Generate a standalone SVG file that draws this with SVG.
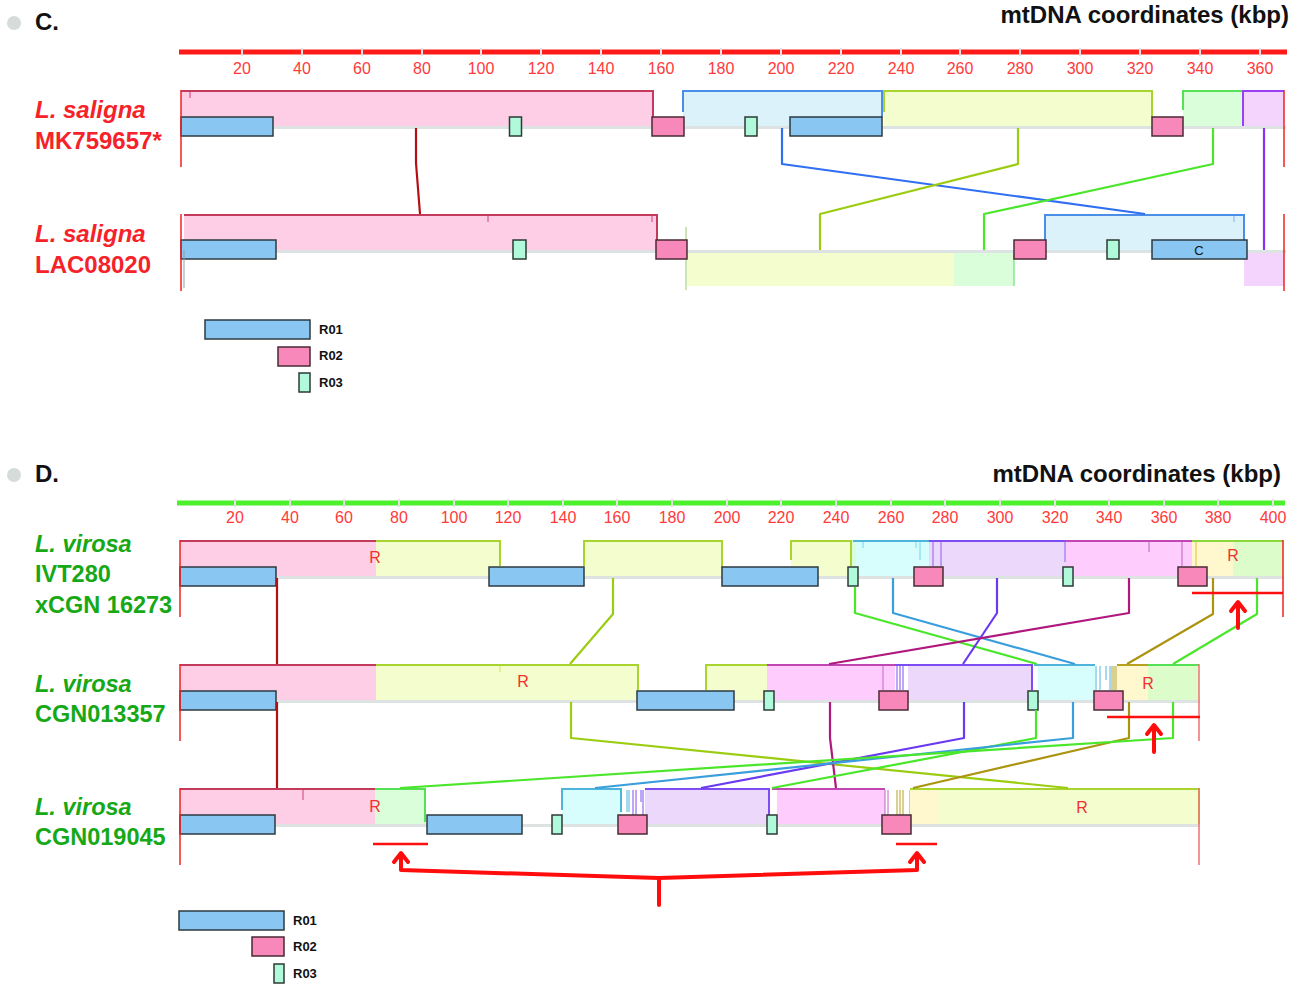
<svg xmlns="http://www.w3.org/2000/svg" width="1304" height="985" viewBox="0 0 1304 985">
<defs>
<style>
text{font-family:"Liberation Sans",Arial,sans-serif}
.hd{font-size:24px;font-weight:bold;fill:#111}
.hdR{font-size:24px;font-weight:bold;fill:#111;text-anchor:end}
.ax{font-size:16px;fill:#ff3a3a;text-anchor:middle}
.spC{font-size:24px;font-weight:bold;fill:#f5222a}
.spD{font-size:23.5px;font-weight:bold;fill:#16a816}
.it{font-style:italic}
.lgT{font-size:13px;font-weight:bold;fill:#111}
.rl{font-size:16px;fill:#f23030;text-anchor:middle}
.base{stroke:#dde3e3;stroke-width:3}
.r1{fill:#89c6f1;stroke:#2d3a40;stroke-width:1.5}
.r2{fill:#f888ba;stroke:#4a2a35;stroke-width:1.5}
.r3{fill:#b0f9da;stroke:#2d3a35;stroke-width:1.5}
.pk{fill:#fecde6}.lb{fill:#dbf2fb}.yg{fill:#f4fdcd}.lg{fill:#dafdda}.lv{fill:#f4d3fc}
.cy{fill:#d7fdfd}.pu{fill:#ebd8fb}.mg{fill:#fecdfd}.ly{fill:#fff8cf}.lg2{fill:#dcfcc9}
.e{fill:none;stroke-width:2}
.t{fill:none;stroke-width:1}
.cn path{fill:none;stroke-width:2.2;stroke-linejoin:round}
.red{stroke:#ff0d0d;fill:none;stroke-width:4;stroke-linecap:round;stroke-linejoin:round}
.redl{stroke:#ff1010;stroke-width:2.5}
.end{stroke:#f02020;stroke-width:1.5}
.endL{stroke:#f07070;stroke-width:1.5}
.tick{stroke:#e2e2e2;stroke-width:2;fill:none}
.dot{fill:#d6dcda}
</style>
</defs>
<rect width="1304" height="985" fill="#fff"/>

<!-- Panel C header -->
<g id="C-header">
<circle class="dot" cx="14" cy="23" r="7"/>
<text class="hd" x="35" y="30">C.</text>
<text class="hdR" x="1289" y="23">mtDNA coordinates (kbp)</text>
<line x1="179" y1="52" x2="1287" y2="52" stroke="#ff1a1a" stroke-width="5"/>
<path class="tick" d="M242,48V56M302,48V56M362,48V56M422,48V56M481,48V56M541,48V56M601,48V56M661,48V56M721,48V56M781,48V56M841,48V56M901,48V56M960,48V56M1020,48V56M1080,48V56M1140,48V56M1200,48V56M1260,48V56"/>
<g class="ax">
<text x="242" y="74">20</text><text x="302" y="74">40</text><text x="362" y="74">60</text><text x="422" y="74">80</text><text x="481" y="74">100</text><text x="541" y="74">120</text><text x="601" y="74">140</text><text x="661" y="74">160</text><text x="721" y="74">180</text><text x="781" y="74">200</text><text x="841" y="74">220</text><text x="901" y="74">240</text><text x="960" y="74">260</text><text x="1020" y="74">280</text><text x="1080" y="74">300</text><text x="1140" y="74">320</text><text x="1200" y="74">340</text><text x="1260" y="74">360</text>
</g>
</g>

<!-- C row 1 -->
<g id="C-MK759657">
<text class="spC it" x="35" y="118">L. saligna</text>
<text class="spC" x="35" y="149">MK759657*</text>
<rect class="pk" x="181" y="90" width="472" height="36"/>
<path class="e" stroke="#c43a5c" d="M181,91H653V126"/>
<path class="t" stroke="#d04070" d="M190,92V98"/>
<rect class="lb" x="683" y="90" width="199" height="36"/>
<path class="e" stroke="#4a8ee8" d="M683,112V91H882V117"/>
<rect class="yg" x="884" y="90" width="269" height="36"/>
<path class="e" stroke="#a8d42e" d="M884,112V91H1152V118"/>
<rect class="lg" x="1183" y="90" width="60" height="36"/>
<path class="e" stroke="#55e055" d="M1183,110V91H1243"/>
<rect class="lv" x="1243" y="90" width="41" height="36"/>
<path class="e" stroke="#9a40f2" d="M1243,126V91H1284"/>
<line class="base" x1="181" y1="127.5" x2="1286" y2="127.5"/>
<rect class="r1" x="181" y="117" width="92" height="19"/>
<rect class="r3" x="509.5" y="117" width="12" height="19"/>
<rect class="r2" x="652" y="117" width="32" height="19"/>
<rect class="r3" x="745" y="117" width="12" height="19"/>
<rect class="r1" x="790" y="117" width="92" height="19"/>
<rect class="r2" x="1152" y="117" width="31" height="19"/>
<line class="end" x1="181" y1="90" x2="181" y2="167"/>
<line class="end" x1="1284" y1="90" x2="1284" y2="167"/>
</g>

<!-- C row 2 -->
<g id="C-LAC08020">
<text class="spC it" x="35" y="242">L. saligna</text>
<text class="spC" x="35" y="273">LAC08020</text>
<rect class="pk" x="184" y="214" width="473" height="36"/>
<path class="e" stroke="#c43a5c" d="M184,215H657V250"/>
<path class="t" stroke="#d04070" d="M488,216V222M652,216V222"/>
<rect class="lb" x="1045" y="214" width="199" height="36"/>
<path class="e" stroke="#4a8ee8" d="M1045,250V215H1244V250"/>
<path class="t" stroke="#7ab0f0" d="M1234,216V222"/>
<rect class="yg" x="687" y="252" width="267" height="34"/>
<rect class="lg" x="954" y="252" width="60" height="34"/>
<rect class="lv" x="1244" y="252" width="40" height="34"/>
<path class="t" stroke="#9acb6a" d="M686,227V290"/>
<path class="t" stroke="#55e055" d="M1014,252V286"/>
<line class="base" x1="181" y1="251.5" x2="1286" y2="251.5"/>
<rect class="r1" x="181" y="240" width="95" height="19"/>
<rect class="r3" x="513" y="240" width="13" height="19"/>
<rect class="r2" x="656" y="240" width="31" height="19"/>
<rect class="r2" x="1014" y="240" width="32" height="19"/>
<rect class="r3" x="1107" y="240" width="12" height="19"/>
<rect class="r1" x="1152" y="240" width="95" height="19"/>
<text x="1199" y="255" font-size="13" fill="#111" text-anchor="middle">C</text>
<line class="end" x1="181" y1="214" x2="181" y2="291"/>
<line x1="184" y1="250" x2="184" y2="288" stroke="#90a0a0" stroke-width="1"/>
<line class="end" x1="1284" y1="214" x2="1284" y2="291"/>
</g>

<!-- Legend C -->
<g id="C-legend">
<rect class="r1" x="205" y="320" width="105" height="19"/>
<text class="lgT" x="319" y="334">R01</text>
<rect class="r2" x="278" y="347" width="32" height="19"/>
<text class="lgT" x="319" y="360">R02</text>
<rect class="r3" x="299" y="373" width="11" height="19"/>
<text class="lgT" x="319" y="387">R03</text>
</g>

<!-- Panel D header -->
<g id="D-header">
<circle class="dot" cx="14" cy="475" r="7"/>
<text class="hd" x="35" y="482">D.</text>
<text class="hdR" x="1281" y="482">mtDNA coordinates (kbp)</text>
<line x1="177" y1="503" x2="1285" y2="503" stroke="#4cf02c" stroke-width="5"/>
<path class="tick" d="M235,499V507M290,499V507M344,499V507M399,499V507M454,499V507M508,499V507M563,499V507M617,499V507M672,499V507M727,499V507M781,499V507M836,499V507M891,499V507M945,499V507M1000,499V507M1055,499V507M1109,499V507M1164,499V507M1218,499V507M1273,499V507"/>
<g class="ax">
<text x="235" y="523">20</text><text x="290" y="523">40</text><text x="344" y="523">60</text><text x="399" y="523">80</text><text x="454" y="523">100</text><text x="508" y="523">120</text><text x="563" y="523">140</text><text x="617" y="523">160</text><text x="672" y="523">180</text><text x="727" y="523">200</text><text x="781" y="523">220</text><text x="836" y="523">240</text><text x="891" y="523">260</text><text x="945" y="523">280</text><text x="1000" y="523">300</text><text x="1055" y="523">320</text><text x="1109" y="523">340</text><text x="1164" y="523">360</text><text x="1218" y="523">380</text><text x="1273" y="523">400</text>
</g>
</g>

<!-- D row 1 -->
<g id="D-IVT280">
<text class="spD it" x="35" y="552">L. virosa</text>
<text class="spD" x="35" y="582">IVT280</text>
<text class="spD" x="35" y="613">xCGN 16273</text>
<rect class="pk" x="180" y="540" width="196" height="36"/>
<path class="e" stroke="#c43a5c" d="M180,541H376"/>
<rect class="yg" x="376" y="540" width="124" height="36"/>
<path class="e" stroke="#a8d42e" d="M376,541H500V566"/>
<rect class="yg" x="584" y="540" width="138" height="36"/>
<path class="e" stroke="#a8d42e" d="M584,566V541H722V568"/>
<rect class="yg" x="791" y="540" width="60" height="36"/>
<path class="e" stroke="#a8d42e" d="M791,560V541H851V566"/>
<rect class="lg" x="852" y="540" width="6" height="36"/>
<rect class="cy" x="856" y="540" width="73" height="36"/>
<path class="e" stroke="#4fb4da" d="M853,541H929"/>
<path class="t" stroke="#70d8f0" d="M863,542V548M916,542V548M920,542V560"/>
<rect class="pu" x="929" y="540" width="137" height="36"/>
<path class="e" stroke="#7d4cf2" d="M929,541H1066"/>
<path class="t" stroke="#8a60f0" d="M933,541V566M941,541V566M1065,541V562"/>
<rect class="mg" x="1066" y="540" width="126" height="36"/>
<path class="e" stroke="#c046b4" d="M1066,541H1192"/>
<path class="t" stroke="#c060c0" d="M1149,542V552M1182,542V566"/>
<rect class="ly" x="1192" y="540" width="41" height="36"/>
<rect class="lg2" x="1233" y="540" width="50" height="36"/>
<path class="e" stroke="#8ad83a" d="M1192,541H1283"/>
<path class="t" stroke="#e0c040" d="M1196,542V566"/>
<line class="base" x1="180" y1="577.5" x2="1284" y2="577.5"/>
<rect class="r1" x="180" y="567" width="96" height="19"/>
<rect class="r1" x="489" y="567" width="95" height="19"/>
<rect class="r1" x="722" y="567" width="96" height="19"/>
<rect class="r3" x="848" y="567" width="10" height="19"/>
<rect class="r2" x="914" y="567" width="29" height="19"/>
<rect class="r3" x="1063" y="567" width="10" height="19"/>
<rect class="r2" x="1178" y="567" width="29" height="19"/>
<text class="rl" x="375" y="563">R</text>
<text class="rl" x="1233" y="561">R</text>
<line class="end" x1="180" y1="540" x2="180" y2="617"/>
<line class="end" x1="1283" y1="540" x2="1283" y2="617"/>
</g>

<!-- D row 2 -->
<g id="D-CGN013357">
<text class="spD it" x="35" y="692">L. virosa</text>
<text class="spD" x="35" y="722">CGN013357</text>
<rect class="pk" x="180" y="664" width="196" height="36"/>
<path class="e" stroke="#c43a5c" d="M180,665H376"/>
<rect class="yg" x="376" y="664" width="262" height="36"/>
<path class="e" stroke="#a8d42e" d="M376,665H638V690"/>
<path class="t" stroke="#e0e060" d="M500,666V672"/>
<rect class="yg" x="706" y="664" width="61" height="36"/>
<path class="e" stroke="#a8d42e" d="M706,690V665H767"/>
<rect class="mg" x="767" y="664" width="128" height="36"/>
<path class="e" stroke="#c046b4" d="M767,665H895"/>
<path class="t" stroke="#d060d0" d="M883,666V690"/>
<path class="t" stroke="#7d4cf2" d="M897,666V690M900,666V690M903,666V690"/>
<rect class="pu" x="908" y="664" width="124" height="36"/>
<path class="e" stroke="#7d4cf2" d="M895,665H1032V690"/>
<rect class="cy" x="1038" y="664" width="57" height="36"/>
<path class="e" stroke="#4fb4da" d="M1034,665H1095"/>
<path class="t" stroke="#4fb4da" d="M1096,666V690M1100,666V690M1106,666V680M1110,666V690"/>
<path class="t" stroke="#b8a020" d="M1112,666V690M1114,666V690M1116,666V690"/>
<rect class="ly" x="1117" y="664" width="31" height="36"/>
<rect class="lg2" x="1148" y="664" width="51" height="36"/>
<path class="e" stroke="#b8a020" d="M1117,665H1148"/>
<path class="e" stroke="#55e055" d="M1148,665H1199"/>
<line class="base" x1="180" y1="701.5" x2="1200" y2="701.5"/>
<rect class="r1" x="180" y="691" width="96" height="19"/>
<rect class="r1" x="637" y="691" width="97" height="19"/>
<rect class="r3" x="764" y="691" width="10" height="19"/>
<rect class="r2" x="879" y="691" width="29" height="19"/>
<rect class="r3" x="1028" y="691" width="10" height="19"/>
<rect class="r2" x="1094" y="691" width="29" height="19"/>
<text class="rl" x="523" y="687">R</text>
<text class="rl" x="1148" y="689">R</text>
<line class="end" x1="180" y1="664" x2="180" y2="741"/>
<line class="endL" x1="1199" y1="664" x2="1199" y2="741"/>
</g>

<!-- D row 3 -->
<g id="D-CGN019045">
<text class="spD it" x="35" y="815">L. virosa</text>
<text class="spD" x="35" y="845">CGN019045</text>
<rect class="pk" x="180" y="788" width="195" height="36"/>
<path class="e" stroke="#c43a5c" d="M180,789H375"/>
<path class="t" stroke="#d04070" d="M303,790V800"/>
<rect class="lg" x="375" y="788" width="50" height="36"/>
<path class="e" stroke="#55e055" d="M375,789H425V822"/>
<rect class="cy" x="562" y="788" width="59" height="36"/>
<path class="e" stroke="#4fb4da" d="M562,810V789H621V812"/>
<path class="t" stroke="#4fb4da" d="M627,790V812M629,790V812"/>
<path class="t" stroke="#7d4cf2" d="M633,790V815M636,790V815M641,790V802M643,790V815"/>
<rect class="pu" x="645" y="788" width="124" height="36"/>
<path class="e" stroke="#7d4cf2" d="M645,789H769V815"/>
<rect class="mg" x="777" y="788" width="108" height="36"/>
<path class="e" stroke="#c046b4" d="M772,789H885"/>
<path class="t" stroke="#c060c0" d="M885,790V815M888,790V815"/>
<path class="t" stroke="#b8a020" d="M897,790V815M900,790V815M903,790V815M910,790V815"/>
<rect class="ly" x="910" y="788" width="27" height="36"/>
<rect class="yg" x="937" y="788" width="262" height="36"/>
<path class="e" stroke="#a8d42e" d="M910,789H1199V824"/>
<line class="base" x1="180" y1="825.5" x2="1200" y2="825.5"/>
<rect class="r1" x="180" y="815" width="95" height="19"/>
<rect class="r1" x="427" y="815" width="95" height="19"/>
<rect class="r3" x="552" y="815" width="10" height="19"/>
<rect class="r2" x="618" y="815" width="29" height="19"/>
<rect class="r3" x="767" y="815" width="10" height="19"/>
<rect class="r2" x="882" y="815" width="29" height="19"/>
<text class="rl" x="375" y="812">R</text>
<text class="rl" x="1082" y="813">R</text>
<line class="end" x1="180" y1="788" x2="180" y2="865"/>
<line class="endL" x1="1199" y1="788" x2="1199" y2="865"/>
</g>

<!-- Legend D -->
<g id="D-legend">
<rect class="r1" x="179" y="911" width="105" height="19"/>
<text class="lgT" x="293" y="925">R01</text>
<rect class="r2" x="252" y="937" width="32" height="19"/>
<text class="lgT" x="293" y="951">R02</text>
<rect class="r3" x="274" y="964" width="10" height="19"/>
<text class="lgT" x="293" y="978">R03</text>
</g>

<!-- Connectors -->
<g id="connectors" class="cn">
<path stroke="#b31014" d="M416,128V163L420,214"/>
<path stroke="#2f6ff2" d="M782,128V164L1145,214"/>
<path stroke="#9ccc10" d="M1018,128V164L820,214V250"/>
<path stroke="#4ae62a" d="M1213,128V164L984,214V250"/>
<path stroke="#8a30f0" d="M1264,128V250"/>

<path stroke="#b31014" d="M277,578V664"/>
<path stroke="#b31014" d="M277,702V788"/>
<path stroke="#9ccc10" d="M613,578V614L570,664"/>
<path stroke="#4ae62a" d="M855,587V613L1037,664"/>
<path stroke="#3a9edc" d="M893,578V613L1075,664"/>
<path stroke="#6a3af0" d="M997,578V613L963,664"/>
<path stroke="#b0187e" d="M1129,578V613L829,664"/>
<path stroke="#aa9410" d="M1213,578V614L1127,664"/>
<path stroke="#4ae62a" d="M1257,578V614L1173,664"/>

<path stroke="#9ccc10" d="M571,702V738L1068,788"/>
<path stroke="#b0187e" d="M830,702V738L836,788"/>
<path stroke="#6a3af0" d="M964,702V738L701,788"/>
<path stroke="#4ae62a" d="M1036,710V738L772,788"/>
<path stroke="#3a9edc" d="M1073,702V738L595,788"/>
<path stroke="#aa9410" d="M1129,702V738L913,788"/>
<path stroke="#4ae62a" d="M1173,702V738L400,788"/>
</g>

<!-- Annotations -->
<g id="annotations">
<line class="redl" x1="1192" y1="593" x2="1283" y2="593"/>
<path class="red" d="M1238,628V603M1231,611L1238,602L1245,611"/>
<line class="redl" x1="1107" y1="717" x2="1200" y2="717"/>
<path class="red" d="M1154,752V726M1147,734L1154,725L1161,734"/>
<line class="redl" x1="373" y1="844" x2="428" y2="844"/>
<line class="redl" x1="896" y1="844" x2="937" y2="844"/>
<path class="red" d="M401,855V870L659,878L917,870V855M394,862L401,853L408,862M910,862L917,853L924,862M659,878V905"/>
</g>
</svg>
